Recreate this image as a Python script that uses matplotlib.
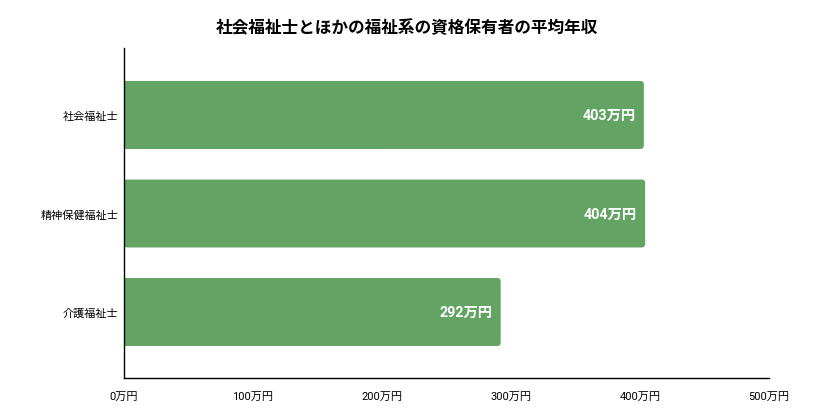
import matplotlib
matplotlib.use("Agg")
import matplotlib.pyplot as plt
from matplotlib.patches import FancyBboxPatch

plt.rcParams['font.family'] = ['Roboto', 'Noto Sans CJK JP', 'DejaVu Sans']

categories = ["社会福祉士", "精神保健福祉士", "介護福祉士"]
values = [403, 404, 292]
value_labels = ["403万円", "404万円", "292万円"]
xticks = [0, 100, 200, 300, 400, 500]
xtick_labels = ["0万円", "100万円", "200万円", "300万円", "400万円", "500万円"]
title = "社会福祉士とほかの福祉系の資格保有者の平均年収"

color = "#63a465"

fig = plt.figure(figsize=(8.13, 4.10), dpi=100)
ax = fig.add_axes([124/813, 31/410, 645/813, 330/410])

ypos = list(range(len(categories)))
bars = ax.barh(ypos, values, height=0.69, color=color)

ax.set_xlim(0, 500)
ax.set_ylim(2.67, -0.68)

# rounded corners
px_per_x = 645 / 500
px_per_y = 330 / 3.35
r = 3.5 / px_per_x
for b in bars:
    x0, y0 = b.get_x(), b.get_y()
    w, h = b.get_width(), b.get_height()
    b.set_visible(False)
    p = FancyBboxPatch((x0, y0), w, h,
                       boxstyle=f"round,pad=0,rounding_size={r}",
                       mutation_aspect=(1/px_per_y)/(1/px_per_x),
                       facecolor=color, edgecolor="none", zorder=2)
    ax.add_patch(p)
    ax.add_patch(plt.Rectangle((x0, y0), w / 2, h, facecolor=color,
                               edgecolor="none", zorder=2))

for y, v, lab in zip(ypos, values, value_labels):
    ax.text(v - 6.5, y, lab, ha="right", va="center", color="white",
            fontsize=10.3, fontweight="bold", zorder=3)

ax.set_yticks(ypos)
ax.set_yticklabels(categories, fontsize=8)
ax.set_xticks(xticks)
ax.set_xticklabels(xtick_labels, fontsize=8)
ax.tick_params(axis="both", length=0)
ax.tick_params(axis="y", pad=4)
ax.tick_params(axis="x", pad=9)

for s in ["top", "right"]:
    ax.spines[s].set_visible(False)
ax.spines["left"].set_linewidth(1)
ax.spines["bottom"].set_linewidth(1)
ax.spines["left"].set_zorder(4)

fig.text(407/813, 1 - 28/410, title, ha="center", va="center",
         fontsize=12, fontweight="bold")

fig.savefig("out.png", dpi=100)
